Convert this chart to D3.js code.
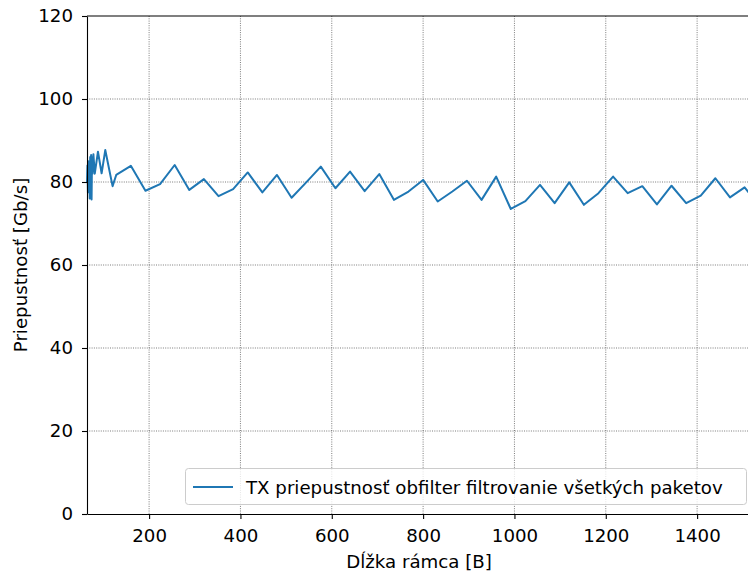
<!DOCTYPE html>
<html>
<head>
<meta charset="utf-8">
<script src="https://cdn.jsdelivr.net/npm/d3@7"></script>
<style>
    body { margin: 0; background: #fff; }
    svg text { font-family: "DejaVu Sans", sans-serif; fill: #000; }
</style>
</head>
<body>
<div id="id_plot"></div>
<script>
// frame length [B]
var frameSizes = [64, 65, 66, 67, 68, 69, 70, 71, 72, 73, 74, 75, 76, 78, 81, 88, 96, 104, 120, 128,
    160, 192, 224, 256, 288, 320, 352, 384, 416, 448, 480, 512, 544, 576, 608, 640, 672, 704,
    736, 768, 800, 832, 864, 896, 928, 960, 992, 1024, 1056, 1088, 1120, 1152, 1184, 1216,
    1248, 1280, 1312, 1344, 1376, 1408, 1440, 1472, 1504, 1518];
// TX throughput [Gb/s]
var txThroughput = [80, 84, 77.5, 85, 79, 84.5, 76, 86, 78, 86.5, 75.8, 86, 82, 86.7, 82, 87.3, 82.1, 87.7, 79, 81.7,
    83.9, 77.9, 79.5, 84.1, 78.1, 80.7, 76.6, 78.3, 82.3, 77.5, 81.7, 76.2, 79.9, 83.7, 78.5, 82.5, 77.8, 81.9,
    75.7, 77.7, 80.5, 75.3, 77.7, 80.3, 75.7, 81.3, 73.5, 75.4, 79.3, 74.9, 79.9, 74.5, 77.3, 81.3,
    77.3, 79.0, 74.6, 79.1, 74.9, 76.7, 80.9, 76.3, 78.7, 76.8];
var xTicks = [200, 400, 600, 800, 1000, 1200, 1400];
var yTicks = [0, 20, 40, 60, 80, 100, 120];
var seriesName = "TX priepustnosť obfilter filtrovanie všetkých paketov";

function drawChart() {
    var svgWidth = 748, svgHeight = 577;
    var left = 87, top = 16, right = 751, bottom = 514;
    var fontSize = 18.2;

    var svg = d3.select("#id_plot").append("svg")
        .attr("width", svgWidth)
        .attr("height", svgHeight);

    var x = d3.scaleLinear().domain([64, 1518]).range([left, right]);
    var y = d3.scaleLinear().domain([0, 120]).range([bottom, top]);

    var data = frameSizes.map(function (d, i) {
        return {x: d, y: txThroughput[i]};
    });

    // grid
    var grid = svg.append("g")
        .attr("stroke", "#444")
        .attr("stroke-width", 0.7)
        .attr("stroke-dasharray", "1,1.3");
    grid.selectAll("line.vx")
        .data(xTicks)
        .enter()
        .append("line")
        .attr("x1", function (d) { return x(d); })
        .attr("x2", function (d) { return x(d); })
        .attr("y1", top)
        .attr("y2", bottom);
    grid.selectAll("line.hy")
        .data(yTicks.slice(1, -1))
        .enter()
        .append("line")
        .attr("x1", left)
        .attr("x2", right)
        .attr("y1", function (d) { return y(d); })
        .attr("y2", function (d) { return y(d); });

    // series
    var line = d3.line()
        .x(function (d) { return x(d.x); })
        .y(function (d) { return y(d.y); });
    svg.append("path")
        .datum(data)
        .attr("fill", "none")
        .attr("stroke", "#1f77b4")
        .attr("stroke-width", 2)
        .attr("stroke-linejoin", "round")
        .attr("d", line);

    // axes
    var xAxis = svg.append("g")
        .attr("transform", "translate(0," + bottom + ")")
        .call(d3.axisBottom(x).tickValues(xTicks).tickFormat(d3.format("d"))
            .tickSize(5).tickPadding(10).tickSizeOuter(0));
    var yAxis = svg.append("g")
        .attr("transform", "translate(" + left + ",0)")
        .call(d3.axisLeft(y).tickValues(yTicks).tickFormat(d3.format("d"))
            .tickSize(5).tickPadding(9).tickSizeOuter(0));
    [xAxis, yAxis].forEach(function (a) {
        a.selectAll("text").attr("font-size", fontSize).attr("font-family", "DejaVu Sans");
        a.selectAll("line").attr("stroke", "#000").attr("stroke-width", 1.1);
        a.select(".domain").attr("stroke", "#000").attr("stroke-width", 1.1);
    });
    svg.append("line")
        .attr("x1", left).attr("x2", right)
        .attr("y1", top).attr("y2", top)
        .attr("stroke", "#000").attr("stroke-width", 1.1);

    // axis labels
    svg.append("text")
        .attr("x", (left + right) / 2)
        .attr("y", 568)
        .attr("text-anchor", "middle")
        .attr("font-size", fontSize)
        .text("Dĺžka rámca [B]");
    svg.append("text")
        .attr("transform", "translate(27," + ((top + bottom) / 2) + ") rotate(-90)")
        .attr("text-anchor", "middle")
        .attr("font-size", fontSize)
        .text("Priepustnosť [Gb/s]");

    // legend
    var legend = svg.append("g");
    legend.append("rect")
        .attr("x", 185.5).attr("y", 468.5)
        .attr("width", 561).attr("height", 36)
        .attr("rx", 3)
        .attr("fill", "#fff").attr("fill-opacity", 0.8)
        .attr("stroke", "#ccc");
    legend.append("line")
        .attr("x1", 193).attr("x2", 233)
        .attr("y1", 487).attr("y2", 487)
        .attr("stroke", "#1f77b4").attr("stroke-width", 2);
    legend.append("text")
        .attr("x", 246).attr("y", 493.5)
        .attr("font-size", fontSize)
        .text(seriesName);
}

drawChart();
</script>
</body>
</html>
